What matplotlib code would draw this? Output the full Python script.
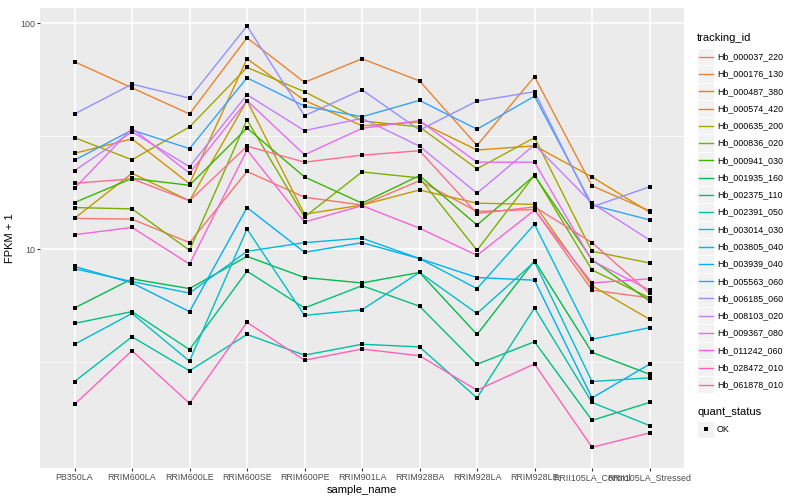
import numpy as np
import matplotlib
matplotlib.use("Agg")
import matplotlib.pyplot as plt
from matplotlib.ticker import FixedLocator, NullFormatter
from matplotlib.patches import Rectangle

plt.rcParams["font.family"] = ["Liberation Sans", "DejaVu Sans"]

# ── Data (FPKM; plotted as FPKM + 1) ───────────────────────────────────────────
samples = ["PB350LA", "RRIM600LA", "RRIM600LE", "RRIM600SE", "RRIM600PE",
           "RRIM901LA", "RRIM928BA", "RRIM928LA", "RRIM928LE",
           "RRII105LA_Control", "RRII105LA_Stressed"]

tracking_ids = ["Hb_000037_220", "Hb_000176_130", "Hb_000487_380", "Hb_000574_420",
                "Hb_000635_200", "Hb_000836_020", "Hb_000941_030", "Hb_001935_160",
                "Hb_002375_110", "Hb_002391_050", "Hb_003014_030", "Hb_003805_040",
                "Hb_003939_040", "Hb_005563_060", "Hb_006185_060", "Hb_008103_020",
                "Hb_009367_080", "Hb_011242_060", "Hb_028472_010", "Hb_061878_010"]

hb_000037_220 = [12.7, 12.6, 9.7, 21.1, 16.0, 14.7, 19.1, 13.7, 14.0, 5.6, 5.1]
hb_000176_130 = [66.6, 50.8, 38.7, 85.3, 53.8, 68.7, 54.6, 27.8, 57.1, 18.1, 13.8]
hb_000487_380 = [25.6, 29.8, 18.5, 68.7, 44.6, 34.2, 35.6, 26.5, 27.7, 19.9, 13.6]
hb_000574_420 = [12.7, 20.7, 15.4, 44.5, 13.3, 14.7, 17.3, 15.0, 14.8, 5.9, 3.9]
hb_000635_200 = [30.2, 23.9, 33.8, 62.8, 48.8, 36.0, 33.8, 21.7, 30.2, 8.8, 7.7]
hb_000836_020 = [14.3, 14.1, 8.9, 36.4, 12.9, 21.0, 19.7, 8.9, 20.3, 7.1, 5.1]
hb_000941_030 = [15.1, 19.6, 18.2, 33.4, 19.9, 15.0, 20.2, 11.8, 20.2, 8.0, 4.9]
hb_001935_160 = [4.5, 6.4, 5.7, 8.3, 6.5, 6.1, 6.9, 3.2, 7.9, 2.5, 1.8]
hb_002375_110 = [3.7, 4.3, 2.6, 7.0, 4.5, 5.9, 4.6, 2.1, 2.9, 0.75, 1.1]
hb_002391_050 = [1.6, 3.1, 1.9, 3.2, 2.4, 2.8, 2.7, 1.2, 4.5, 1.1, 0.66]
hb_003014_030 = [2.8, 4.2, 2.2, 11.3, 4.1, 4.4, 6.9, 4.2, 7.8, 1.6, 1.7]
hb_003805_040 = [7.2, 6.2, 5.4, 8.8, 9.7, 10.2, 8.1, 5.7, 11.9, 3.0, 3.5]
hb_003939_040 = [7.4, 6.1, 4.3, 14.3, 8.7, 9.7, 8.1, 6.5, 6.3, 1.2, 2.1]
hb_005563_060 = [23.8, 32.7, 26.9, 56.4, 42.0, 37.6, 44.6, 33.0, 46.6, 14.7, 12.5]
hb_006185_060 = [38.7, 52.8, 45.7, 96.3, 38.0, 49.8, 32.7, 44.3, 48.8, 14.4, 17.9]
hb_008103_020 = [21.3, 32.1, 22.2, 47.3, 32.5, 37.0, 27.6, 16.7, 28.0, 15.0, 10.0]
hb_009367_080 = [17.6, 33.3, 20.7, 44.5, 25.2, 33.3, 36.1, 23.3, 23.3, 7.9, 5.6]
hb_011242_060 = [10.6, 11.5, 7.6, 26.5, 12.2, 14.6, 11.4, 8.4, 13.9, 6.1, 6.4]
hb_028472_010 = [1.06, 2.56, 1.08, 3.75, 2.23, 2.62, 2.38, 1.38, 2.11, 0.33, 0.54]
hb_061878_010 = [18.6, 19.5, 15.4, 27.6, 23.3, 25.1, 26.3, 13.4, 14.4, 9.7, 5.4]

series = [hb_000037_220, hb_000176_130, hb_000487_380, hb_000574_420, hb_000635_200,
          hb_000836_020, hb_000941_030, hb_001935_160, hb_002375_110, hb_002391_050,
          hb_003014_030, hb_003805_040, hb_003939_040, hb_005563_060, hb_006185_060,
          hb_008103_020, hb_009367_080, hb_011242_060, hb_028472_010, hb_061878_010]

# ggplot default hue palette for 20 levels
colors = ["#F8766D", "#EA8331", "#D89000", "#C09B00", "#A3A500", "#7CAE00", "#39B600",
          "#00BB4E", "#00BF7D", "#00C1A3", "#00BFC4", "#00BAE0", "#00B0F6", "#35A2FF",
          "#9590FF", "#C77CFF", "#E76BF3", "#FA62DB", "#FF62BC", "#FF6C91"]

# ── Figure ─────────────────────────────────────────────────────────────────────
fig = plt.figure(figsize=(8, 5), dpi=100)
ax = fig.add_axes([40 / 800, 1 - 468 / 500, 644 / 800, 460 / 500])
ax.set_facecolor("#EBEBEB")
for s in ax.spines.values():
    s.set_visible(False)

x = np.arange(1, len(samples) + 1)
for vals, col in zip(series, colors):
    y = np.array(vals) + 1
    ax.plot(x, y, color=col, lw=1.0, zorder=2)
    ax.scatter(x, y, marker="s", s=6, color="black", zorder=3, linewidths=0)

ax.set_yscale("log")
ax.set_ylim(1.077, 116.9)
ax.set_xlim(0.4, 11.6)
ax.yaxis.set_major_locator(FixedLocator([10, 100]))
ax.set_yticklabels(["10", "100"])
ax.yaxis.set_minor_locator(FixedLocator([10 ** 0.5, 10 ** 1.5]))
ax.yaxis.set_minor_formatter(NullFormatter())
ax.set_xticks(x)
ax.set_xticklabels(samples)

ax.grid(which="major", color="white", lw=1.1, zorder=0)
ax.grid(which="minor", axis="y", color="white", lw=0.5, zorder=0)
ax.set_axisbelow(True)
ax.tick_params(which="major", length=2, width=0.8, color="#333333",
               labelsize=6.4, labelcolor="#4D4D4D", pad=1.5)
ax.tick_params(which="minor", length=0)

ax.set_xlabel("sample_name", fontsize=8, labelpad=2)
ax.set_ylabel("FPKM + 1", fontsize=8, labelpad=4)

# ── Legends (ggplot style, drawn in pixel coords) ──────────────────────────────
lg = fig.add_axes([0, 0, 1, 1])
lg.set_xlim(0, 800)
lg.set_ylim(500, 0)
lg.axis("off")

lg.text(697, 38, "tracking_id", fontsize=8, va="center", ha="left")
y0, dy = 56.7, 17.27
for i, (tid, col) in enumerate(zip(tracking_ids, colors)):
    yc = y0 + i * dy
    lg.add_patch(Rectangle((697, yc - dy / 2), 17, dy, facecolor="#F2F2F2",
                           edgecolor="white", lw=0.8))
    lg.plot([698.5, 712.5], [yc, yc], color=col, lw=1.0)
    lg.text(717, yc, tid, fontsize=6.4, va="center", ha="left")

lg.text(697, 412, "quant_status", fontsize=8, va="center", ha="left")
lg.add_patch(Rectangle((697, 429.3 - dy / 2), 17, dy, facecolor="#F2F2F2",
                       edgecolor="white", lw=0.8))
lg.scatter([705.5], [429.3], marker="s", s=6, color="black", linewidths=0)
lg.text(717, 429.3, "OK", fontsize=6.4, va="center", ha="left")

fig.savefig("out.png", dpi=100)
